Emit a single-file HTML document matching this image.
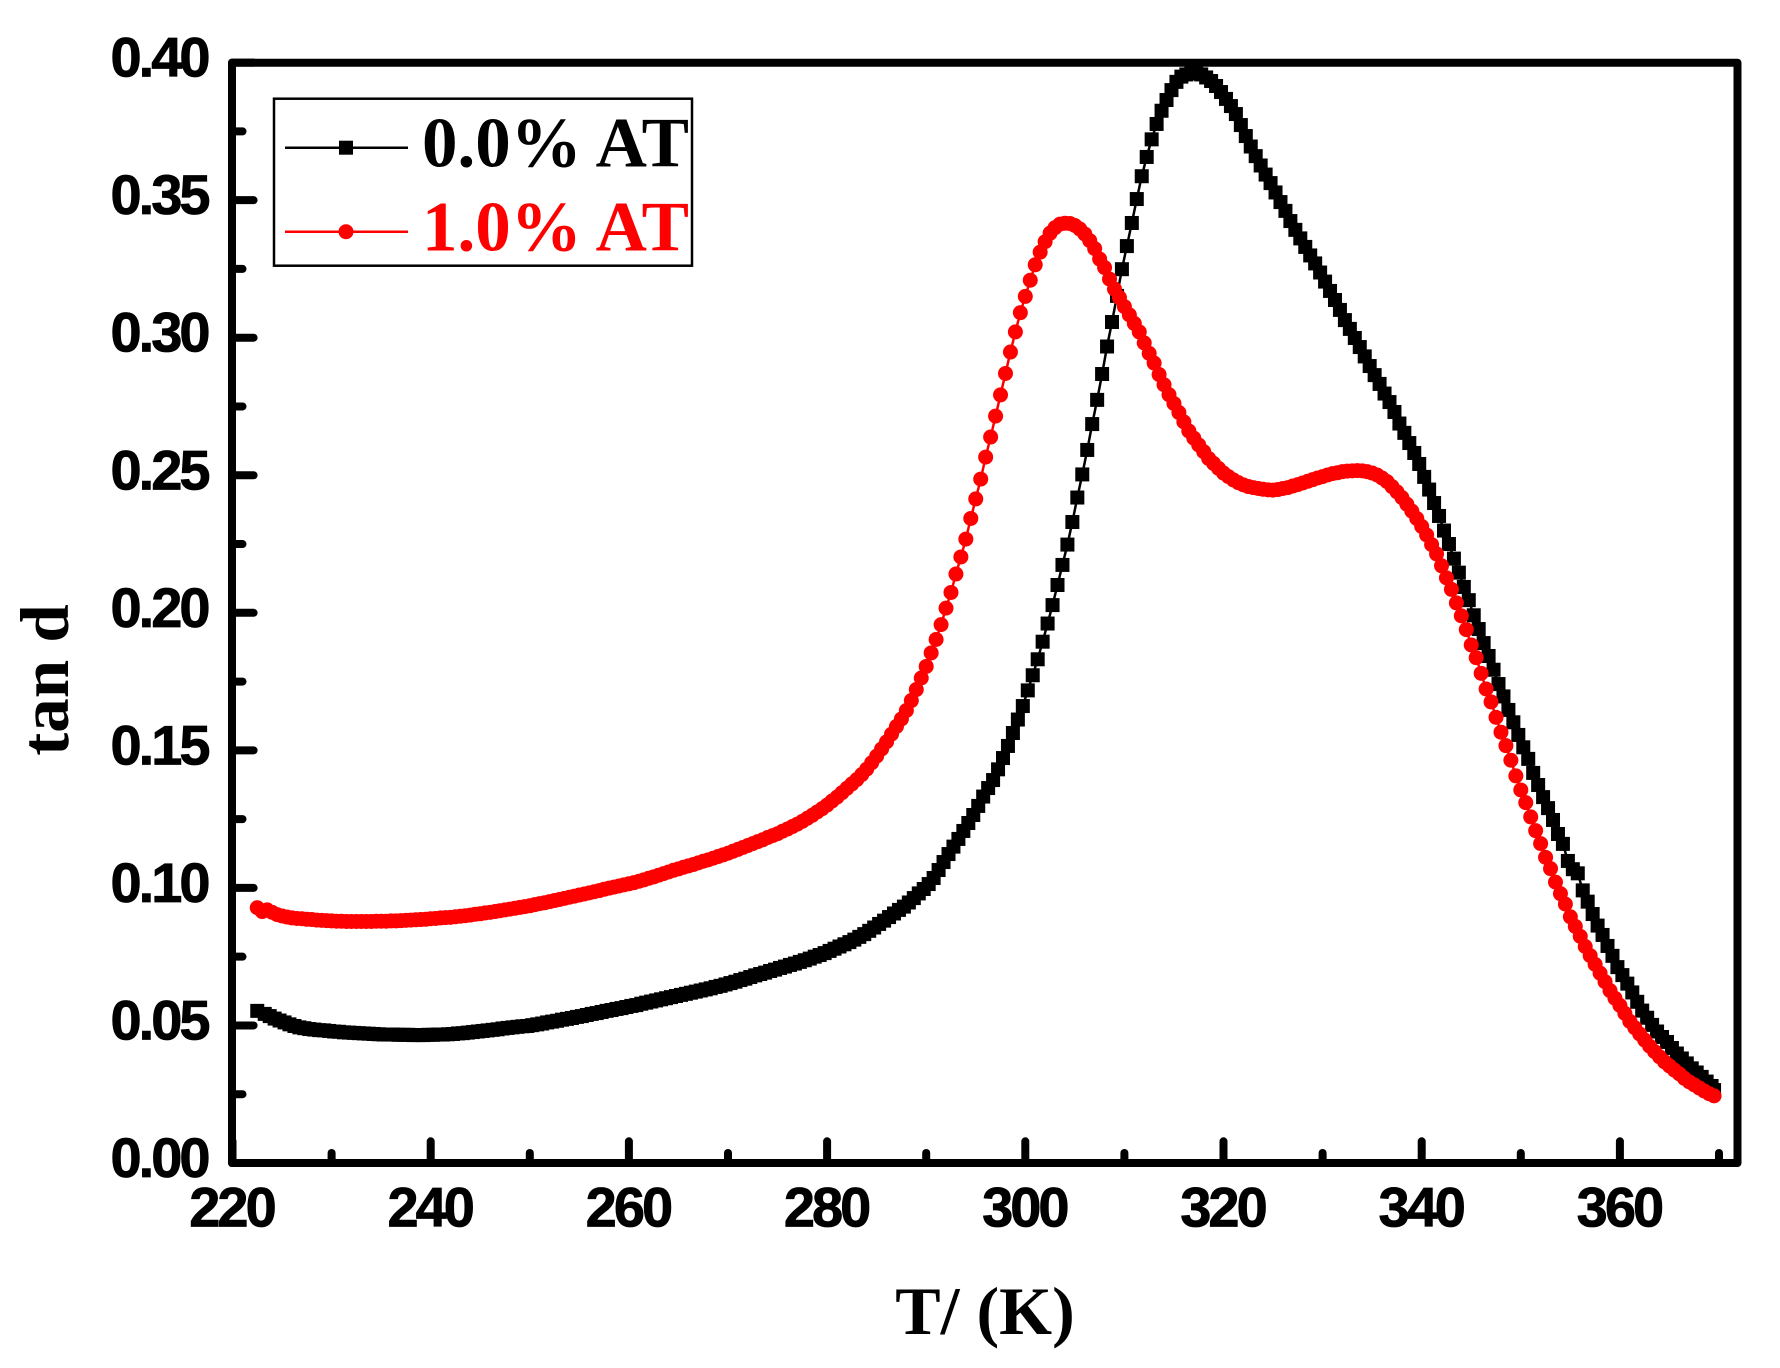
<!DOCTYPE html>
<html lang="en">
<head>
<meta charset="utf-8">
<title>tan d versus temperature</title>
<style>
html,body{margin:0;padding:0;background:#fff;}
svg{display:block;}
.tick-label{font-family:"Liberation Sans",Arial,sans-serif;font-weight:700;font-size:56px;letter-spacing:-3px;fill:#000;stroke:#000;stroke-width:0.8px;}
.serif{font-family:"Liberation Serif","Times New Roman",serif;font-weight:700;}
</style>
</head>
<body>
<svg id="chart" xmlns="http://www.w3.org/2000/svg" width="1780" height="1368" viewBox="0 0 1780 1368">
  <rect x="0" y="0" width="1780" height="1368" fill="#ffffff"/>
  <g id="series-layer"></g>
  <rect x="232" y="62.7" width="1505.5" height="1100.3" fill="none" stroke="#000" stroke-width="8" stroke-linejoin="round"/>
  <g id="tick-layer"></g>
  <g>
    <rect x="274" y="98.7" width="418" height="167" fill="#fff" stroke="#000" stroke-width="2.5"/>
    <line x1="285" y1="147.7" x2="408" y2="147.7" stroke="#000" stroke-width="2.5"/>
    <rect x="339" y="140.7" width="14" height="14" fill="#000"/>
    <text class="serif" x="422" y="166.7" font-size="71" fill="#000">0.0% AT</text>
    <line x1="285" y1="231.7" x2="408" y2="231.7" stroke="#f00" stroke-width="2.5"/>
    <circle cx="346" cy="231.7" r="7.5" fill="#f00"/>
    <text class="serif" x="422" y="250.7" font-size="71" fill="#f00">1.0% AT</text>
  </g>
  <text class="serif" x="985" y="1334" font-size="68" text-anchor="middle" fill="#000">T/ (K)</text>
  <text class="serif" x="0" y="0" font-size="69" text-anchor="middle" fill="#000" transform="translate(68 680) rotate(-90)">tan d</text>
</svg>
<script>
const xMajorTicks = [220,240,260,280,300,320,340,360];
const xMinorTicks = [230,250,270,290,310,330,350,370];
const xTickLabels = ["220","240","260","280","300","320","340","360"];
const yMajorTicks = [0,0.05,0.10,0.15,0.20,0.25,0.30,0.35,0.40];
const yMinorTicks = [0.025,0.075,0.125,0.175,0.225,0.275,0.325,0.375];
const yTickLabels = ["0.00","0.05","0.10","0.15","0.20","0.25","0.30","0.35","0.40"];

const tempsUndoped = [
222.5,223.25,223.75,224.25,224.75,225.25,225.75,226.25,226.75,227.25,
227.75,228.25,228.75,229.25,229.75,230.25,230.75,231.25,231.75,232.25,
232.75,233.25,233.75,234.25,234.75,235.25,235.75,236.25,236.75,237.25,
237.75,238.25,238.75,239.25,239.75,240.25,240.75,241.25,241.75,242.25,
242.75,243.25,243.75,244.25,244.75,245.25,245.75,246.25,246.75,247.25,
247.75,248.25,248.75,249.25,249.75,250.25,250.75,251.25,251.75,252.25,
252.75,253.25,253.75,254.25,254.75,255.25,255.75,256.25,256.75,257.25,
257.75,258.25,258.75,259.25,259.75,260.25,260.75,261.25,261.75,262.25,
262.75,263.25,263.75,264.25,264.75,265.25,265.75,266.25,266.75,267.25,
267.75,268.25,268.75,269.25,269.75,270.25,270.75,271.25,271.75,272.25,
272.75,273.25,273.75,274.25,274.75,275.25,275.75,276.25,276.75,277.25,
277.75,278.25,278.75,279.25,279.75,280.25,280.75,281.25,281.75,282.25,
282.75,283.25,283.75,284.25,284.75,285.25,285.75,286.25,286.75,287.25,
287.75,288.25,288.75,289.25,289.75,290.25,290.75,291.25,291.75,292.25,
292.75,293.25,293.75,294.25,294.75,295.25,295.75,296.25,296.75,297.25,
297.75,298.25,298.75,299.25,299.75,300.25,300.75,301.25,301.75,302.25,
302.75,303.25,303.75,304.25,304.75,305.25,305.75,306.25,306.75,307.25,
307.75,308.25,308.75,309.25,309.75,310.25,310.75,311.25,311.75,312.25,
312.75,313.25,313.75,314.25,314.75,315.25,315.75,316.25,316.75,317.25,
317.75,318.25,318.75,319.25,319.75,320.25,320.75,321.25,321.75,322.25,
322.75,323.25,323.75,324.25,324.75,325.25,325.75,326.25,326.75,327.25,
327.75,328.25,328.75,329.25,329.75,330.25,330.75,331.25,331.75,332.25,
332.75,333.25,333.75,334.25,334.75,335.25,335.75,336.25,336.75,337.25,
337.75,338.25,338.75,339.25,339.75,340.25,340.75,341.25,341.75,342.25,
342.75,343.25,343.75,344.25,344.75,345.25,345.75,346.25,346.75,347.25,
347.75,348.25,348.75,349.25,349.75,350.25,350.75,351.25,351.75,352.25,
352.75,353.25,353.75,354.25,354.75,355.25,355.75,356.25,356.75,357.25,
357.75,358.25,358.75,359.25,359.75,360.25,360.75,361.25,361.75,362.25,
362.75,363.25,363.75,364.25,364.75,365.25,365.75,366.25,366.75,367.25,
367.75,368.25,368.75,369.25,369.5];

const tanDUndoped = [
.0553,.0542,.0534,.0525,.0518,.0511,.0504,.0498,.0493,.0490,
.0487,.0485,.0483,.0482,.0480,.0478,.0477,.0475,.0474,.0473,
.0472,.0471,.0470,.0469,.0468,.0467,.0467,.0467,.0466,.0466,
.0466,.0465,.0465,.0465,.0466,.0466,.0467,.0467,.0468,.0469,
.0471,.0472,.0474,.0476,.0478,.0480,.0482,.0484,.0486,.0489,
.0491,.0493,.0495,.0497,.0498,.0501,.0504,.0507,.0511,.0514,
.0517,.0521,.0524,.0527,.0531,.0534,.0538,.0542,.0545,.0549,
.0553,.0556,.0560,.0563,.0567,.0571,.0574,.0579,.0583,.0587,
.0591,.0595,.0599,.0603,.0607,.0611,.0615,.0619,.0623,.0627,
.0631,.0635,.0640,.0644,.0649,.0654,.0659,.0665,.0670,.0676,
.0682,.0687,.0692,.0698,.0703,.0709,.0714,.0720,.0725,.0731,
.0737,.0743,.0750,.0756,.0763,.0771,.0779,.0787,.0795,.0803,
.0812,.0822,.0832,.0844,.0856,.0869,.0881,.0894,.0907,.0920,
.0932,.0947,.0963,.0980,.0996,.1014,.1036,.1065,.1094,.1123,
.1150,.1178,.1207,.1236,.1265,.1298,.1332,.1363,.1392,.1431,
.1472,.1516,.1563,.1612,.1661,.1718,.1773,.1831,.1895,.1961,
.2028,.2101,.2174,.2248,.2330,.2419,.2503,.2592,.2686,.2774,
.2868,.2968,.3057,.3152,.3249,.3333,.3417,.3504,.3587,.3657,
.3721,.3777,.3825,.3864,.3900,.3930,.3949,.3957,.3961,.3962,
.3957,.3946,.3933,.3915,.3893,.3868,.3842,.3813,.3773,.3733,
.3695,.3660,.3626,.3593,.3562,.3528,.3493,.3461,.3424,.3392,
.3361,.3330,.3299,.3270,.3237,.3204,.3170,.3137,.3101,.3064,
.3032,.2999,.2966,.2932,.2897,.2864,.2832,.2797,.2766,.2730,
.2688,.2654,.2617,.2581,.2541,.2494,.2448,.2399,.2352,.2299,
.2250,.2197,.2146,.2094,.2046,.1991,.1941,.1890,.1843,.1793,
.1741,.1696,.1647,.1602,.1556,.1511,.1469,.1418,.1374,.1330,
.1290,.1247,.1196,.1160,.1098,.1068,.1053,.0991,.0950,.0905,
.0863,.0829,.0789,.0753,.0712,.0683,.0652,.0620,.0586,.0554,
.0528,.0502,.0478,.0458,.0440,.0418,.0398,.0380,.0362,.0344,
.0329,.0313,.0296,.0280,.0265];

const tempsDoped = [
222.5,223,223.5,224,224.5,225,225.5,226,226.5,227,
227.5,228,228.5,229,229.5,230,230.5,231,231.5,232,
232.5,233,233.5,234,234.5,235,235.5,236,236.5,237,
237.5,238,238.5,239,239.5,240,240.5,241,241.5,242,
242.5,243,243.5,244,244.5,245,245.5,246,246.5,247,
247.5,248,248.5,249,249.5,250,250.5,251,251.5,252,
252.5,253,253.5,254,254.5,255,255.5,256,256.5,257,
257.5,258,258.5,259,259.5,260,260.5,261,261.5,262,
262.5,263,263.5,264,264.5,265,265.5,266,266.5,267,
267.5,268,268.5,269,269.5,270,270.5,271,271.5,272,
272.5,273,273.5,274,274.5,275,275.5,276,276.5,277,
277.5,278,278.5,279,279.5,280,280.5,281,281.5,282,
282.5,283,283.5,284,284.5,285,285.5,286,286.5,287,
287.5,288,288.5,289,289.5,290,290.5,291,291.5,292,
292.5,293,293.5,294,294.5,295,295.5,296,296.5,297,
297.5,298,298.5,299,299.5,300,300.5,301,301.5,302,
302.5,303,303.5,304,304.5,305,305.5,306,306.5,307,
307.5,308,308.5,309,309.5,310,310.5,311,311.5,312,
312.5,313,313.5,314,314.5,315,315.5,316,316.5,317,
317.5,318,318.5,319,319.5,320,320.5,321,321.5,322,
322.5,323,323.5,324,324.5,325,325.5,326,326.5,327,
327.5,328,328.5,329,329.5,330,330.5,331,331.5,332,
332.5,333,333.5,334,334.5,335,335.5,336,336.5,337,
337.5,338,338.5,339,339.5,340,340.5,341,341.5,342,
342.5,343,343.5,344,344.5,345,345.5,346,346.5,347,
347.5,348,348.5,349,349.5,350,350.5,351,351.5,352,
352.5,353,353.5,354,354.5,355,355.5,356,356.5,357,
357.5,358,358.5,359,359.5,360,360.5,361,361.5,362,
362.5,363,363.5,364,364.5,365,365.5,366,366.5,367,
367.5,368,368.5,369,369.5];

const tanDDoped = [
.0928,.0914,.0920,.0911,.0903,.0898,.0894,.0891,.0889,.0888,
.0886,.0885,.0883,.0882,.0881,.0880,.0879,.0879,.0878,.0878,
.0878,.0878,.0878,.0878,.0879,.0879,.0879,.0880,.0880,.0881,
.0882,.0883,.0884,.0885,.0886,.0888,.0889,.0891,.0892,.0893,
.0895,.0897,.0899,.0901,.0904,.0906,.0909,.0911,.0914,.0917,
.0920,.0923,.0926,.0929,.0932,.0935,.0939,.0943,.0946,.0950,
.0954,.0958,.0962,.0966,.0970,.0974,.0978,.0982,.0986,.0990,
.0995,.0999,.1003,.1007,.1011,.1015,.1019,.1024,.1029,.1035,
.1040,.1046,.1052,.1058,.1064,.1069,.1075,.1080,.1085,.1091,
.1097,.1102,.1108,.1114,.1120,.1126,.1133,.1140,.1147,.1154,
.1161,.1168,.1175,.1183,.1190,.1197,.1206,.1214,.1223,.1232,
.1242,.1253,.1264,.1276,.1288,.1301,.1316,.1330,.1346,.1362,
.1378,.1394,.1412,.1432,.1455,.1479,.1505,.1531,.1559,.1587,
.1614,.1645,.1681,.1721,.1763,.1805,.1854,.1903,.1957,.2017,
.2074,.2141,.2203,.2268,.2343,.2414,.2486,.2566,.2639,.2715,
.2792,.2870,.2948,.3021,.3091,.3150,.3209,.3265,.3311,.3349,
.3380,.3400,.3413,.3416,.3415,.3408,.3395,.3377,.3353,.3324,
.3286,.3255,.3213,.3177,.3146,.3113,.3083,.3052,.3021,.2981,
.2943,.2908,.2866,.2829,.2793,.2761,.2728,.2694,.2661,.2635,
.2610,.2586,.2561,.2543,.2525,.2508,.2495,.2483,.2473,.2465,
.2459,.2455,.2452,.2449,.2447,.2446,.2448,.2452,.2455,.2461,
.2466,.2472,.2478,.2484,.2490,.2495,.2501,.2506,.2509,.2513,
.2515,.2516,.2517,.2516,.2513,.2508,.2501,.2490,.2477,.2459,
.2440,.2419,.2395,.2370,.2343,.2314,.2283,.2248,.2214,.2171,
.2127,.2085,.2036,.1989,.1939,.1883,.1837,.1780,.1723,.1676,
.1620,.1566,.1517,.1464,.1407,.1356,.1310,.1258,.1208,.1161,
.1111,.1070,.1021,.0979,.0941,.0895,.0860,.0824,.0787,.0754,
.0722,.0690,.0659,.0627,.0599,.0573,.0544,.0515,.0492,.0469,
.0447,.0425,.0405,.0386,.0368,.0353,.0338,.0324,.0308,.0295,
.0284,.0273,.0262,.0252,.0244];

const SVG_NS = 'http://www.w3.org/2000/svg';
function xScale(t){ return 232.5 + (t - 220) * 9.91; }
function yScale(v){ return 1163 - v * 2751; }
function make(tag, attrs, parent){
  const el = document.createElementNS(SVG_NS, tag);
  for (const k in attrs) el.setAttribute(k, attrs[k]);
  parent.appendChild(el);
  return el;
}

const seriesLayer = document.getElementById('series-layer');
const tickLayer = document.getElementById('tick-layer');

function drawSeries(name, temps, values, color, shape){
  const group = make('g', {}, seriesLayer);
  
  
  const pts = temps.map(function(t, i){ return xScale(t).toFixed(2) + ',' + yScale(values[i]).toFixed(2); }).join(' ');
  const line = make('polyline', {points: pts, fill: 'none', stroke: color, 'stroke-width': 2.5}, group);
  
  
  temps.forEach(function(t, i){
    const cx = xScale(t), cy = yScale(values[i]);
    let mark;
    if (shape === 'square') {
      mark = make('rect', {x: (cx - 7).toFixed(2), y: (cy - 7).toFixed(2), width: 14, height: 14, fill: color}, group);
    } else {
      mark = make('circle', {cx: cx.toFixed(2), cy: cy.toFixed(2), r: 7.5, fill: color}, group);
    }
    
    
  });
}
drawSeries('series-0-percent-at', tempsUndoped, tanDUndoped, '#000000', 'square');
drawSeries('series-1-percent-at', tempsDoped, tanDDoped, '#ff0000', 'circle');

function tickLine(name, x1, y1, x2, y2){
  const tick = make('line', {x1: x1, y1: y1, x2: x2, y2: y2, stroke: '#000', 'stroke-width': 8, 'stroke-linecap': 'round'}, tickLayer);
  
  
}
xMajorTicks.forEach(function(t, i){
  tickLine('x-major-tick', xScale(t), 1163, xScale(t), 1141.3);
  const label = make('text', {x: xScale(t) - 1, y: 1226.5, 'text-anchor': 'middle', 'class': 'tick-label'}, tickLayer);
  
  
  label.textContent = xTickLabels[i];
});
xMinorTicks.forEach(function(t){
  tickLine('x-minor-tick', xScale(t), 1163, xScale(t), 1153);
});
yMajorTicks.forEach(function(v, i){
  tickLine('y-major-tick', 232, yScale(v), 253.6, yScale(v));
  const label = make('text', {x: 207.5, y: yScale(v) + 14, 'text-anchor': 'end', 'class': 'tick-label'}, tickLayer);
  
  
  label.textContent = yTickLabels[i];
});
yMinorTicks.forEach(function(v){
  tickLine('y-minor-tick', 232, yScale(v), 242.5, yScale(v));
});
</script>
</body>
</html>
